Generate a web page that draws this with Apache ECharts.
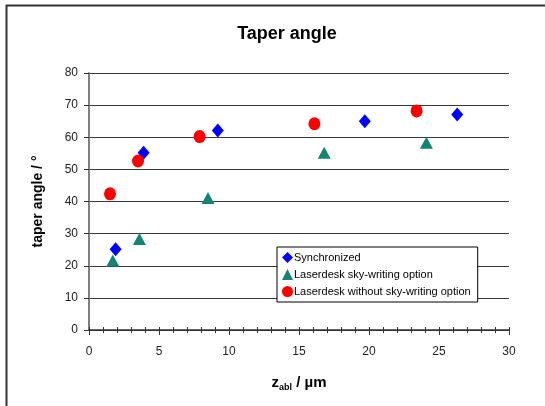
<!DOCTYPE html>
<html><head><meta charset="utf-8">
<script src="https://cdn.jsdelivr.net/npm/echarts@6/dist/echarts.min.js"></script>
<style>html,body{margin:0;padding:0;background:#fff}#c{width:545px;height:406px}</style>
</head><body><div id="c"></div>
<script>
const seriesNames = ['Synchronized', 'Laserdesk sky-writing option', 'Laserdesk without sky-writing option'];
const synchronized = [[1.9, 25.1], [3.9, 55.2], [9.2, 62.1], [19.7, 65.0], [26.3, 67.1]];
const skyWriting = [[1.7, 21.6], [3.6, 28.3], [8.5, 41.1], [16.8, 55.2], [24.1, 58.3]];
const withoutSkyWriting = [[1.5, 42.4], [3.5, 52.6], [7.9, 60.2], [16.1, 64.2], [23.4, 68.2]];
const xTicks = [0, 5, 10, 15, 20, 25, 30];
const yTicks = [0, 10, 20, 30, 40, 50, 60, 70, 80];

const font = 'Liberation Sans, Arial, sans-serif';
const chart = echarts.init(document.getElementById('c'));
const xMin = xTicks[0], xMax = xTicks[xTicks.length - 1];
const yMin = yTicks[0], yMax = yTicks[yTicks.length - 1];
chart.setOption({
  animation: false,
  backgroundColor: '#fff',
  title: {
    text: 'Taper angle', left: 282, top: 20, textAlign: 'center',
    textStyle: { fontFamily: font, fontSize: 18, fontWeight: 'bold', color: '#000' }
  },
  grid: { left: 89, right: 36, top: 73, bottom: 76 },
  legend: {
    orient: 'vertical', left: 277, top: 247,
    backgroundColor: '#fff', borderColor: '#000', borderWidth: 1,
    padding: [5, 7, 5, 5], itemGap: 6, itemWidth: 11, itemHeight: 11,
    textStyle: { fontFamily: font, fontSize: 11, color: '#000', padding: [0, 0, 0, -4] },
    data: [
      { name: seriesNames[0], icon: 'diamond' },
      { name: seriesNames[1], icon: 'triangle' },
      { name: seriesNames[2], icon: 'circle' }
    ]
  },
  xAxis: [{
    type: 'value', min: xMin, max: xMax, interval: 5,
    name: '{a|z}{b|abl}{a| / µm}', nameLocation: 'middle', nameGap: 44,
    nameTextStyle: { rich: {
      a: { fontFamily: font, fontSize: 15, fontWeight: 'bold', color: '#000' },
      b: { fontFamily: font, fontSize: 9, fontWeight: 'bold', color: '#000', verticalAlign: 'bottom', padding: [9, 0, 0, 0] }
    } },
    axisLine: { onZero: false, lineStyle: { color: '#333', width: 1.5 } },
    axisTick: { show: true, length: 5, lineStyle: { color: '#333' } },
    minorTick: { show: true, splitNumber: 5, length: 3, lineStyle: { color: '#333' } },
    axisLabel: { fontFamily: font, fontSize: 12, color: '#222', margin: 16 },
    splitLine: { show: false }
  }, {
    type: 'value', min: xMin, max: xMax, interval: 5, position: 'bottom',
    axisLine: { show: false },
    axisTick: { show: true, inside: true, length: 3, lineStyle: { color: '#333' } },
    minorTick: { show: true, splitNumber: 5, length: 3, lineStyle: { color: '#333' } },
    axisLabel: { show: false }, splitLine: { show: false }
  }],
  yAxis: [{
    type: 'value', min: yMin, max: yMax, interval: 10,
    name: 'taper angle / °', nameLocation: 'middle', nameGap: 44, nameRotate: 90,
    nameTextStyle: { fontFamily: font, fontSize: 14, fontWeight: 'bold', color: '#000' },
    axisLine: { show: true, onZero: false, lineStyle: { color: '#333', width: 1.5 } },
    axisTick: { show: true, length: 5, lineStyle: { color: '#333' } },
    axisLabel: { fontFamily: font, fontSize: 12, color: '#222', margin: 11 },
    splitLine: { show: true, lineStyle: { color: '#3a3a3a', width: 1 } }
  }, {
    type: 'value', min: yMin, max: yMax, interval: 10, position: 'right',
    axisLine: { show: true, lineStyle: { color: '#888', width: 1.5 } },
    axisTick: { show: false }, axisLabel: { show: false }, splitLine: { show: false }
  }],
  series: [
    { name: seriesNames[0], type: 'scatter', symbol: 'diamond', symbolSize: [12, 14], data: synchronized,
      itemStyle: { color: '#0000ff', opacity: 1 }, z: 3 },
    { name: seriesNames[1], type: 'scatter', symbol: 'triangle', symbolSize: [13, 12], data: skyWriting,
      itemStyle: { color: '#148473', opacity: 1 }, z: 3 },
    { name: seriesNames[2], type: 'scatter', symbol: 'circle', symbolSize: [12, 13], data: withoutSkyWriting,
      itemStyle: { color: '#ff0000', opacity: 1 }, z: 3 }
  ],
  graphic: [
    { type: 'line', shape: { x1: 6.5, y1: 5, x2: 6.5, y2: 406 }, style: { stroke: '#333', lineWidth: 2 } },
    { type: 'line', shape: { x1: 6, y1: 5.5, x2: 545, y2: 5.5 }, style: { stroke: '#333', lineWidth: 2 } }
  ]
});
</script></body></html>
